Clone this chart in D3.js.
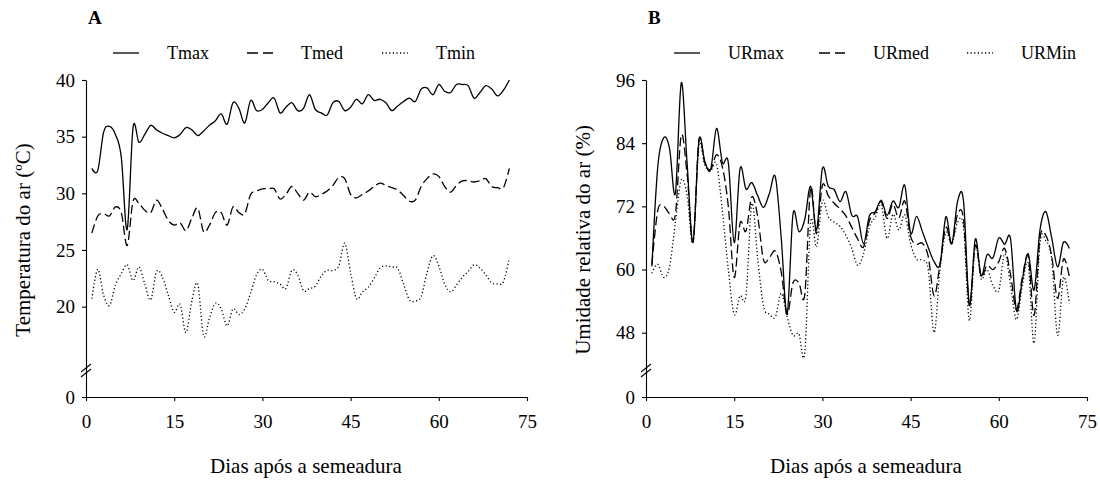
<!DOCTYPE html>
<html>
<head>
<meta charset="utf-8">
<script src="https://cdn.jsdelivr.net/npm/d3@7"></script>
<style>
  body { margin: 0; background: #fff; }
</style>
</head>
<body>
<svg id="chart" width="1100" height="480"></svg>
<script>
// days after sowing (1..72)
var days = d3.range(1, 73);

// panel A - air temperature (ºC)
var tmax = [32.2, 32.0, 35.4, 35.9, 35.2, 33.2, 26.8, 35.8, 34.5, 35.2, 36.0, 35.6,
            35.3, 35.1, 34.9, 35.2, 35.8, 35.6, 35.1, 35.5, 36.0, 36.4, 37.0, 36.1,
            38.0, 37.5, 36.2, 38.2, 37.3, 37.4, 38.0, 38.4, 37.1, 37.6, 38.0, 37.3,
            37.5, 38.7, 37.4, 37.1, 36.9, 38.0, 38.1, 37.3, 37.6, 38.3, 37.9, 38.7,
            38.2, 38.3, 38.0, 37.3, 37.7, 38.1, 38.4, 38.1, 39.2, 39.3, 38.7, 39.6,
            39.0, 38.9, 39.6, 39.6, 39.5, 38.4, 38.9, 39.5, 39.2, 38.6, 39.1, 40.0];
var tmed = [26.5, 28.0, 28.2, 28.0, 28.8, 28.3, 25.4, 29.3, 29.1, 28.5, 28.3, 29.4,
            28.6, 27.6, 27.2, 27.4, 26.7, 27.8, 28.7, 26.6, 27.2, 28.3, 28.3, 27.2,
            28.8, 28.3, 28.2, 29.9, 30.2, 30.4, 30.4, 30.4, 29.5, 29.9, 30.6, 30.0,
            29.4, 30.1, 29.7, 29.9, 30.2, 30.7, 31.4, 31.3, 29.9, 29.6, 29.9, 30.2,
            30.6, 30.9, 30.7, 30.5, 30.3, 29.8, 29.3, 29.4, 30.6, 31.3, 31.7, 31.5,
            30.6, 30.1, 30.7, 31.1, 31.1, 31.0, 31.1, 31.3, 30.6, 30.5, 30.5, 32.2];
var tmin = [20.7, 23.3, 21.0, 20.1, 21.9, 22.9, 23.7, 22.3, 23.5, 22.0, 20.6, 23.1,
            22.6, 21.0, 19.5, 20.2, 17.7, 20.5, 22.0, 17.4, 19.0, 20.3, 19.8, 18.3,
            19.8, 19.3, 19.8, 21.2, 22.8, 23.3, 22.3, 22.2, 22.0, 21.6, 23.2, 22.8,
            21.4, 21.6, 21.8, 22.7, 23.2, 23.2, 23.6, 25.6, 23.0, 20.7, 21.3, 21.7,
            22.5, 23.4, 23.6, 23.5, 23.4, 22.0, 20.6, 20.5, 20.9, 23.0, 24.5, 23.6,
            22.0, 21.3, 21.9, 22.6, 23.1, 23.7, 23.4, 22.8, 22.1, 22.0, 22.2, 24.3];

// panel B - relative humidity (%)
var urmax = [60.6, 79.5, 85.0, 83.0, 74.5, 95.5, 80.0, 65.2, 84.5, 80.5, 79.0, 86.8,
             80.3, 80.3, 65.1, 79.2, 75.3, 76.5, 74.0, 71.8, 74.5, 77.6, 66.0, 51.5,
             70.5, 67.2, 69.5, 75.8, 67.5, 79.2, 75.8, 75.2, 72.9, 74.8, 70.3, 70.0,
             64.9, 70.2, 71.0, 73.2, 70.3, 73.0, 71.8, 76.0, 66.9, 70.1, 67.2, 64.2,
             61.5, 61.0, 70.0, 64.9, 73.0, 73.0, 53.2, 65.8, 58.8, 62.8, 62.2, 66.0,
             64.8, 65.8, 52.2, 58.0, 63.0, 56.1, 67.5, 71.0, 66.0, 60.5, 65.2, 64.0];
var urmed = [61.0, 71.2, 72.0, 70.6, 70.5, 85.5, 78.0, 65.2, 84.5, 80.3, 79.0, 81.8,
             79.4, 72.0, 58.5, 68.8, 67.3, 73.8, 70.0, 61.8, 62.3, 63.5, 59.5, 51.5,
             57.5, 57.5, 55.2, 75.5, 66.8, 76.0, 74.0, 72.6, 71.5, 70.2, 68.0, 65.8,
             64.3, 69.3, 70.8, 72.9, 69.7, 72.4, 69.8, 73.0, 66.3, 64.8, 65.0, 62.5,
             55.0, 61.0, 68.0, 64.9, 70.5, 69.5, 53.2, 64.6, 58.8, 60.8, 60.0, 61.5,
             64.0, 59.0, 52.4, 58.5, 62.5, 51.3, 66.0, 66.5, 62.5, 54.5, 62.0, 58.6];
var urmin = [59.3, 61.0, 58.5, 60.5, 69.0, 77.0, 74.0, 65.2, 83.5, 79.8, 78.8, 80.0,
             71.0, 60.0, 51.5, 55.0, 55.0, 72.5, 62.0, 53.0, 51.5, 51.0, 55.5, 51.0,
             47.5, 47.8, 44.2, 69.0, 64.3, 73.0, 70.0, 69.0, 68.2, 66.5, 64.0, 60.8,
             63.0, 68.1, 70.0, 72.3, 65.9, 70.5, 67.5, 70.4, 64.9, 62.0, 61.8, 60.0,
             48.0, 60.0, 67.0, 64.9, 69.0, 68.0, 50.3, 64.5, 58.2, 60.0, 57.0, 56.0,
             63.0, 57.0, 50.5, 57.0, 61.0, 46.0, 65.0, 65.5, 62.0, 47.5, 58.5, 53.5];

var xTicks = [0, 15, 30, 45, 60, 75];
var yTicksA = [0, 20, 25, 30, 35, 40];
var yTicksB = [0, 48, 60, 72, 84, 96];
var namesA = ["Tmax", "Tmed", "Tmin"];
var namesB = ["URmax", "URmed", "URMin"];

var FONT = "'Liberation Serif', 'Times New Roman', 'DejaVu Serif', serif";

var svg = d3.select("#chart");

// line styles: solid, dashed, dotted
var dashes = [null, "9,4", "1.2,2.4"];
var legendDashes = [null, "11,5", "1.2,2.4"];

function drawPanel(opt) {
    var g = svg.append("g");

    var x = d3.scaleLinear().domain([0, 75]).range([opt.left, opt.left + 441]);
    // broken axis: 0 at the bottom, then jump to the break value
    var y = d3.scaleLinear().domain(opt.yDomain).range([397, opt.breakY, 80]);

    //x axis
    var xa = g.append("g")
        .attr("transform", "translate(0,397)")
        .call(d3.axisBottom(x).tickValues(xTicks).tickSize(4).tickSizeOuter(0).tickPadding(14));
    xa.selectAll("text").style("font-size", "19px");

    //y axis
    var ya = g.append("g")
        .attr("transform", "translate(" + opt.left + ",0)")
        .call(d3.axisLeft(y).tickValues(opt.yTicks).tickSize(4).tickSizeOuter(0).tickPadding(7));
    ya.selectAll("text").style("font-size", "19px");
    g.selectAll(".domain, .tick line").attr("stroke", "#000").attr("stroke-width", 1.1);

    //axis break marks
    [0, 5].forEach(function(off) {
        g.append("line")
            .attr("x1", opt.left - 5).attr("y1", opt.breakMark + 4 + off)
            .attr("x2", opt.left + 5).attr("y2", opt.breakMark - 4 + off)
            .attr("stroke", "#000").attr("stroke-width", 1.1);
    });

    //lines
    var line = d3.line()
        .x(function(d, i) { return x(days[i]); })
        .y(function(d) { return y(d); })
        .curve(d3.curveCardinal.tension(0));

    opt.series.forEach(function(s, i) {
        g.append("path")
            .datum(s)
            .attr("d", line)
            .attr("fill", "none")
            .attr("stroke", "#000")
            .attr("stroke-width", 1.3)
            .attr("stroke-dasharray", dashes[i]);
    });

    //legend
    opt.names.forEach(function(n, i) {
        var lx = opt.legendX[i];
        g.append("line")
            .attr("x1", lx).attr("x2", lx + 26)
            .attr("y1", 53).attr("y2", 53)
            .attr("stroke", "#000").attr("stroke-width", 1.3)
            .attr("stroke-dasharray", legendDashes[i]);
        g.append("text")
            .attr("x", lx + 54).attr("y", 59)
            .style("font-size", "18px")
            .text(n);
    });

    //panel letter
    g.append("text")
        .attr("x", opt.left + 2).attr("y", 24)
        .style("font-size", "19px").style("font-weight", "bold")
        .text(opt.letter);

    //x title
    g.append("text")
        .attr("text-anchor", "middle")
        .attr("x", opt.left + 220).attr("y", 473)
        .style("font-size", "21px")
        .text("Dias após a semeadura");

    //y title
    g.append("text")
        .attr("text-anchor", "middle")
        .attr("transform", "rotate(-90)")
        .attr("x", -240).attr("y", opt.left - 56)
        .style("font-size", "21px")
        .text(opt.yTitle);
}

drawPanel({
    left: 86, letter: "A",
    yDomain: [0, 15, 40], breakY: 363.3, breakMark: 368,
    yTicks: yTicksA,
    series: [tmax, tmed, tmin], names: namesA,
    legendX: [113, 247, 382],
    yTitle: "Temperatura do ar (ºC)"
});

drawPanel({
    left: 646, letter: "B",
    yDomain: [0, 42, 96], breakY: 364.3, breakMark: 368,
    yTicks: yTicksB,
    series: [urmax, urmed, urmin], names: namesB,
    legendX: [674, 819, 967],
    yTitle: "Umidade relativa do ar (%)"
});

// serif everywhere (axis groups set their own sans-serif family)
svg.selectAll("g").attr("font-family", FONT);
svg.selectAll("text").attr("font-family", FONT).style("font-family", FONT).attr("fill", "#000");
</script>
</body>
</html>
